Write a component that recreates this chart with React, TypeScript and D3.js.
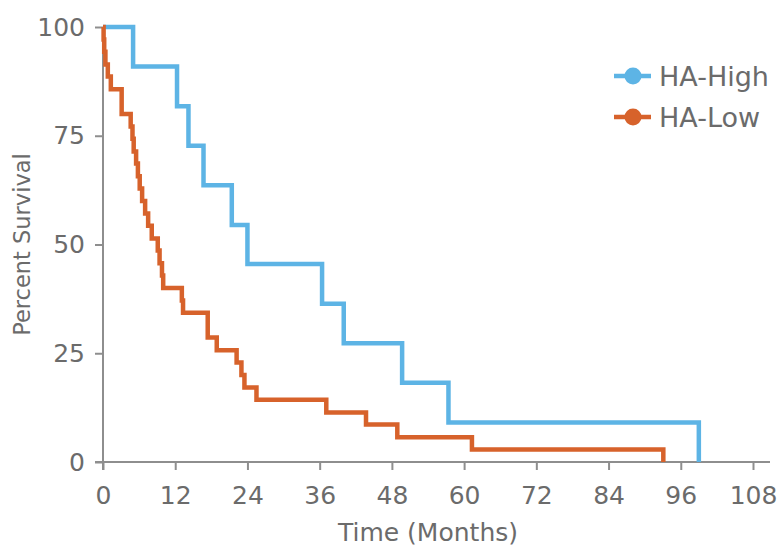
import { useRef, useEffect } from "react";
import * as d3 from "d3";

// Kaplan-Meier steps (months, percent surviving)
const highTimes = [0, 5.0, 12.3, 14.2, 16.7, 21.4, 24.0, 36.4, 40.0, 49.7, 57.4, 99.0];
const highSurvival = [100, 90.9, 81.8, 72.7, 63.6, 54.5, 45.5, 36.4, 27.3, 18.2, 9.1, 0];

const lowTimes = [
  0, 0.1, 0.2, 0.4, 0.8, 1.3, 3.1, 4.6, 4.9, 5.1, 5.5, 5.8, 6.1, 6.5, 7.0, 7.5,
  8.1, 9.1, 9.4, 9.8, 10.0, 13.1, 13.3, 17.4, 18.9, 22.2, 23.0, 23.5, 25.5, 37.1,
  43.7, 48.9, 61.3, 93.1,
];
const lowSurvival = [
  100, 97.1, 94.3, 91.4, 88.6, 85.7, 80.0, 77.1, 74.3, 71.4, 68.6, 65.7, 62.9,
  60.0, 57.1, 54.3, 51.4, 48.6, 45.7, 42.9, 40.0, 37.1, 34.3, 28.6, 25.7, 22.9,
  20.0, 17.1, 14.3, 11.4, 8.6, 5.7, 2.9, 0,
];

const seriesNames = ["HA-High", "HA-Low"];
const seriesColors = ["#5db4e5", "#d7622b"];

const xTicks = [0, 12, 24, 36, 48, 60, 72, 84, 96, 108];
const yTicks = [0, 25, 50, 75, 100];

const width = 784;
const height = 547;
const margin = { top: 27, right: 29, bottom: 85, left: 103 };
const font = "'DejaVu Sans', sans-serif";
const textColor = "#6b6b6b";
const axisColor = "#8e8e8e";

const SurvivalChart = () => {
  const svgRef = useRef<SVGSVGElement>(null);

  useEffect(() => {
    const svg = d3.select(svgRef.current);
    svg.selectAll("*").remove();

    const x = d3
      .scaleLinear()
      .domain([0, 108])
      .range([margin.left, width - margin.right - 2]);

    const y = d3
      .scaleLinear()
      .domain([0, 100])
      .range([height - margin.bottom, margin.top]);

    // x axis
    const xAxis = svg
      .append("g")
      .attr("transform", `translate(0,${y(0)})`)
      .call(d3.axisBottom(x).tickValues(xTicks).tickSize(8).tickPadding(16).tickSizeOuter(0));
    xAxis.select(".domain").remove();
    xAxis
      .append("line")
      .attr("x1", x(0) - 8)
      .attr("x2", width - 14)
      .attr("stroke", axisColor)
      .attr("stroke-width", 2);

    // y axis
    const yAxis = svg
      .append("g")
      .attr("transform", `translate(${x(0)},0)`)
      .call(d3.axisLeft(y).tickValues(yTicks).tickSize(8).tickPadding(10).tickSizeOuter(0));
    yAxis.select(".domain").remove();
    yAxis
      .append("line")
      .attr("y1", y(100))
      .attr("y2", y(0) + 8)
      .attr("stroke", axisColor)
      .attr("stroke-width", 2);

    svg
      .selectAll(".tick line")
      .attr("stroke", axisColor)
      .attr("stroke-width", 2);
    svg
      .selectAll(".tick text")
      .attr("fill", textColor)
      .style("font-family", font)
      .style("font-size", "25px");

    // axis titles
    svg
      .append("text")
      .attr("x", (x(0) + x(108)) / 2)
      .attr("y", height - 6)
      .attr("text-anchor", "middle")
      .attr("fill", textColor)
      .style("font-family", font)
      .style("font-size", "25px")
      .text("Time (Months)");

    svg
      .append("text")
      .attr("transform", `translate(30,${(y(0) + y(100)) / 2}) rotate(-90)`)
      .attr("text-anchor", "middle")
      .attr("fill", textColor)
      .style("font-family", font)
      .style("font-size", "22.5px")
      .text("Percent Survival");

    // survival curves
    const line = d3
      .line<[number, number]>()
      .x((d) => x(d[0]))
      .y((d) => y(d[1]))
      .curve(d3.curveStepAfter);

    const curves: [number, number][][] = [
      highTimes.map((t, i) => [t, highSurvival[i]]),
      lowTimes.map((t, i) => [t, lowSurvival[i]]),
    ];

    curves.forEach((pts, i) => {
      svg
        .append("path")
        .datum(pts)
        .attr("fill", "none")
        .attr("stroke", seriesColors[i])
        .attr("stroke-width", 4.5)
        .attr("d", line);
    });

    // legend
    const legend = svg
      .selectAll(".legend")
      .data(seriesNames)
      .enter()
      .append("g")
      .attr("class", "legend")
      .attr("transform", (_d, i) => `translate(614,${76 + i * 41})`);

    legend
      .append("line")
      .attr("x1", 0)
      .attr("x2", 37)
      .attr("stroke", (_d, i) => seriesColors[i])
      .attr("stroke-width", 4.5);

    legend
      .append("circle")
      .attr("cx", 19)
      .attr("r", 8.5)
      .attr("fill", (_d, i) => seriesColors[i]);

    legend
      .append("text")
      .attr("x", 45)
      .attr("y", 10)
      .attr("fill", textColor)
      .style("font-family", font)
      .style("font-size", "27px")
      .text((d) => d);
  }, []);

  return (
    <svg
      ref={svgRef}
      width={width}
      height={height}
      style={{ position: "absolute", left: 0, top: 0, background: "#fff" }}
    ></svg>
  );
};

export default function App() {
  return <SurvivalChart />;
}
